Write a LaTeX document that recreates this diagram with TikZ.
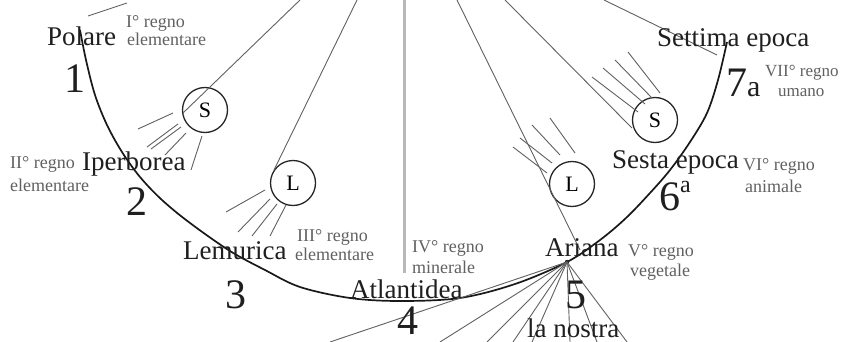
\documentclass[tikz,border=0pt]{standalone}
\usepackage{fontspec}
\setmainfont{Liberation Serif}
\begin{document}
\begin{tikzpicture}[x=1pt,y=-1pt,
  lbl/.style={font=\fontsize{27}{27}\selectfont, text=black!88, anchor=base west, inner sep=0pt},
  sml/.style={font=\fontsize{18}{18}\selectfont, text=black!62, anchor=base west, inner sep=0pt},
  num/.style={font=\fontsize{42}{42}\selectfont, text=black!88, anchor=base, inner sep=0pt},
  ray/.style={draw=black!62, line width=0.9pt},
  arcline/.style={draw=black!90, line width=1.7pt},
  body/.style={circle, draw=black!85, line width=1.3pt, minimum size=45pt, inner sep=0pt, font=\fontsize{22}{22}\selectfont}]
\useasboundingbox (0,0) rectangle (842,342);
\fill[white] (0,0) rectangle (842,342);

% grey vertical divider
\draw[draw=black!28, line width=3pt] (404,0) -- (404,273);

% main arc of the epochs
\draw[arcline] plot[smooth, tension=0.55] coordinates {
  (80,30) (86,60) (95,95) (107,125) (122,152) (140,177) (162,200) (190,223)
  (230,251) (265,270) (300,287) (350,298) (400,301) (460,298) (515,284)
  (567,262) (600,240) (626,218) (650,193) (670,170) (690,142) (707,113)
  (718,80) (727,42)};

% sun and moon bodies
\node[body] (sunL) at (205,110) {S};
\node[body] (moonL) at (293,183) {L};
\node[body] (moonR) at (572,184) {L};
\node[body] (sunR) at (655,120) {S};

% Ariana convergence point
\coordinate (ar) at (567,262);
\fill[black!85] (ar) circle (2.2);

% lines from the top
\draw[ray] (88,16) -- (127,3);
\draw[ray] (300,0) -- (183,113);
\draw[ray] (357,0) -- (274,170);
\draw[ray] (457,0) -- (580,250);
\draw[ray] (505,0) -- (632,128);
\draw[ray] (604,0) -- (717,55);

% rays below left sun
\draw[ray] (173,113) -- (138,129);
\draw[ray] (178,124) -- (147,147);
\draw[ray] (181,127) -- (151,149);
\draw[ray] (186,133) -- (165,155);
\draw[ray] (202,136) -- (191,170);

% rays below left moon
\draw[ray] (265,190) -- (226,212);
\draw[ray] (270,199) -- (238,232);
\draw[ray] (277,204) -- (252,236);
\draw[ray] (286,205) -- (270,236);

% rays above right moon
\draw[ray] (547,173) -- (513,147);
\draw[ray] (552,163) -- (520,138);
\draw[ray] (560,155) -- (532,125);
\draw[ray] (575,153) -- (550,118);

% rays above right sun
\draw[ray] (592,77) -- (638,112);
\draw[ray] (603,68) -- (645,104);
\draw[ray] (615,60) -- (652,98);
\draw[ray] (628,52) -- (660,93);

% fan from Ariana
\foreach \bx in {330,440,487,513,532,570,597,627}
  \draw[ray] (ar) -- (\bx,342);

% epoch names
\node[lbl] (polare) at (47,46) {Polare};
\node[lbl] (iperborea) at (82,170) {Iperborea};
\node[lbl] (lemurica) at (183,259) {Lemurica};
\node[lbl] (atlantidea) at (350,298) {Atlantidea};
\node[lbl] (ariana) at (545,256) {Ariana};
\node[lbl] (sesta) at (612,168) {Sesta epoca};
\node[lbl] (settima) at (657,47) {Settima epoca};
\node[lbl] (nostra) at (527,337) {la nostra};

% numbers
\node[num] (n1) at (75,93) {1};
\node[num] (n2) at (137,215) {2};
\node[num] (n3) at (236,308) {3};
\node[num, text depth=0pt] (n4) at (408,334) {4};
\node[num] (n5) at (576,308) {5};
\node[num, anchor=base west] (n6) at (659,210) {6\raisebox{18pt}{\fontsize{24}{24}\selectfont a}};
\node[num, anchor=base west] (n7) at (726,97) {7{\fontsize{30}{30}\selectfont a}};

% kingdoms
\node[sml] (r1a) at (126,28) {I° regno};
\node[sml] (r1b) at (127,46) {elementare};
\node[sml] (r2a) at (10,168) {II° regno};
\node[sml] (r2b) at (10,191) {elementare};
\node[sml] (r3a) at (297,241) {III° regno};
\node[sml] (r3b) at (295,260) {elementare};
\node[sml] (r4a) at (412,252) {IV° regno};
\node[sml] (r4b) at (412,273) {minerale};
\node[sml] (r5a) at (628,256) {V° regno};
\node[sml] (r5b) at (630,276) {vegetale};
\node[sml] (r6a) at (743,170) {VI° regno};
\node[sml] (r6b) at (745,192) {animale};
\node[sml, font=\fontsize{17}{17}\selectfont] (r7a) at (765,77) {VII° regno};
\node[sml, font=\fontsize{17}{17}\selectfont] (r7b) at (778,97) {umano};
\end{tikzpicture}
\end{document}
